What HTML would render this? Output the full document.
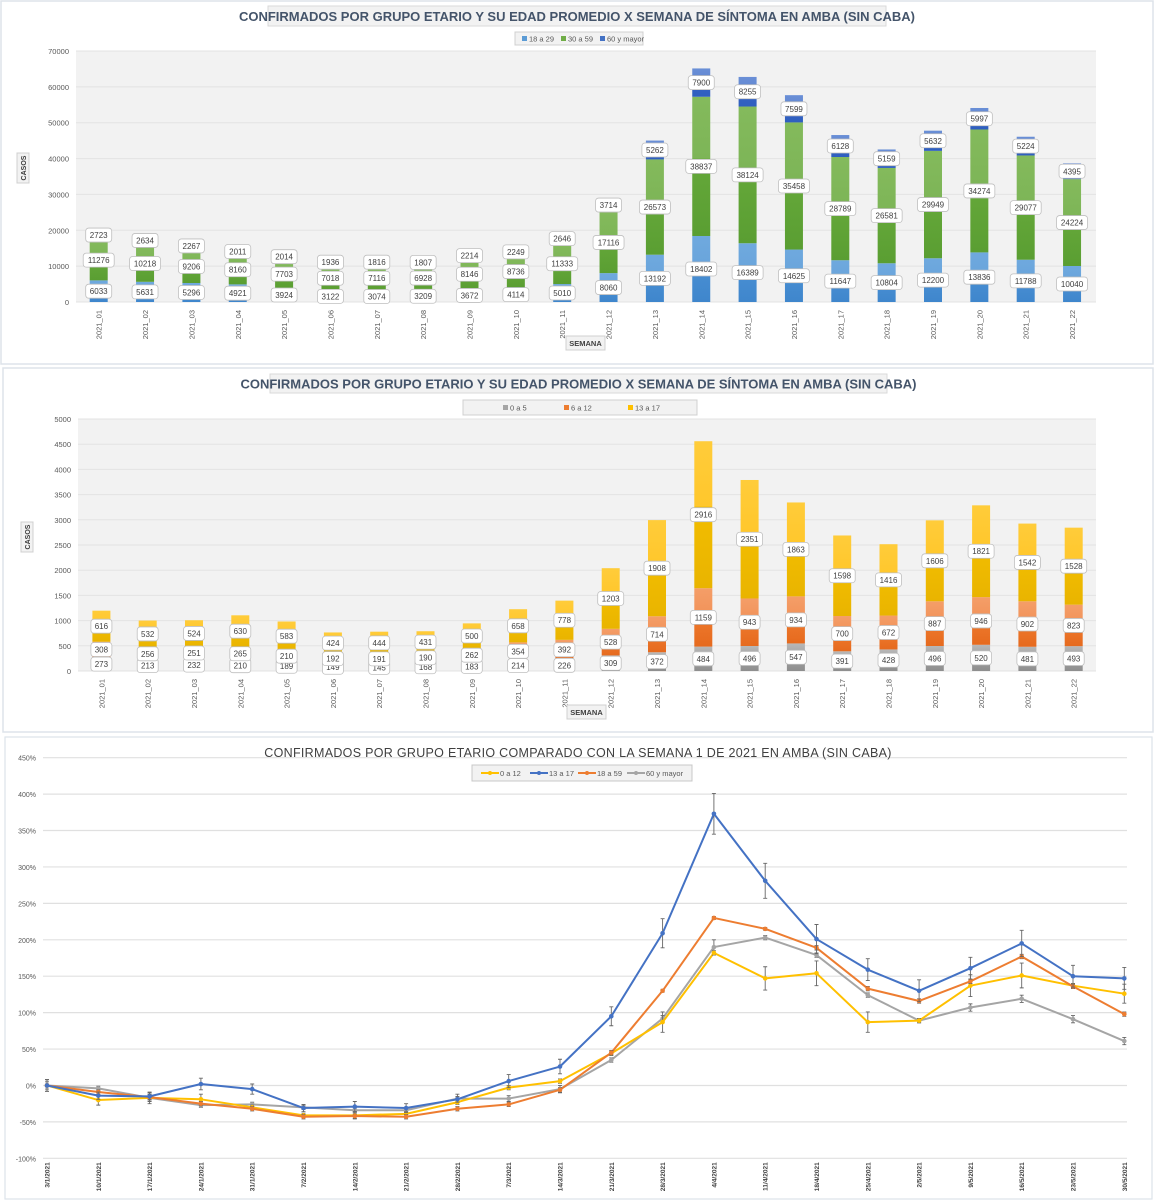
<!DOCTYPE html>
<html><head><meta charset="utf-8">
<style>
html,body{margin:0;padding:0;background:#fff;}
svg{display:block;font-family:"Liberation Sans",sans-serif;}
</style></head>
<body>
<svg id="root" width="1156" height="1200" viewBox="0 0 1156 1200" xmlns="http://www.w3.org/2000/svg">
<defs>
<linearGradient id="gBlue" x1="0" y1="1" x2="0" y2="0"><stop offset="0" stop-color="#3f86cc"/><stop offset="0.6" stop-color="#4a90d4"/><stop offset="0.61" stop-color="#6aa5dc"/><stop offset="1" stop-color="#6fa9de"/></linearGradient>
<linearGradient id="gGreen" x1="0" y1="1" x2="0" y2="0"><stop offset="0" stop-color="#5a9e32"/><stop offset="0.55" stop-color="#65a83a"/><stop offset="0.56" stop-color="#7db557"/><stop offset="1" stop-color="#84ba5c"/></linearGradient>
<linearGradient id="gDBlue" x1="0" y1="1" x2="0" y2="0"><stop offset="0" stop-color="#2f5fbf"/><stop offset="0.45" stop-color="#3563c4"/><stop offset="0.46" stop-color="#5f86d2"/><stop offset="1" stop-color="#6a8fd6"/></linearGradient>
<linearGradient id="gGray" x1="0" y1="1" x2="0" y2="0"><stop offset="0" stop-color="#8e8e8e"/><stop offset="0.5" stop-color="#a0a0a0"/><stop offset="1" stop-color="#b8b8b8"/></linearGradient>
<linearGradient id="gOrange" x1="0" y1="1" x2="0" y2="0"><stop offset="0" stop-color="#e66a1e"/><stop offset="0.55" stop-color="#ee7a2e"/><stop offset="0.56" stop-color="#f2935a"/><stop offset="1" stop-color="#f49e68"/></linearGradient>
<linearGradient id="gYellow" x1="0" y1="1" x2="0" y2="0"><stop offset="0" stop-color="#e9b400"/><stop offset="0.55" stop-color="#f2bd00"/><stop offset="0.56" stop-color="#ffc72c"/><stop offset="1" stop-color="#ffcc3a"/></linearGradient>
</defs>
</svg>
<script>
// ---------- Chart 1 data ----------
const weeks = ["2021_01","2021_02","2021_03","2021_04","2021_05","2021_06","2021_07","2021_08","2021_09","2021_10","2021_11","2021_12","2021_13","2021_14","2021_15","2021_16","2021_17","2021_18","2021_19","2021_20","2021_21","2021_22"];
const c1Ticks = [0,10000,20000,30000,40000,50000,60000,70000];
const c1_18a29 = [6033,5631,5296,4921,3924,3122,3074,3209,3672,4114,5010,8060,13192,18402,16389,14625,11647,10804,12200,13836,11788,10040];
const c1_30a59 = [11276,10218,9206,8160,7703,7018,7116,6928,8146,8736,11333,17116,26573,38837,38124,35458,28789,26581,29949,34274,29077,24224];
const c1_60mas = [2723,2634,2267,2011,2014,1936,1816,1807,2214,2249,2646,3714,5262,7900,8255,7599,6128,5159,5632,5997,5224,4395];
// ---------- Chart 2 data ----------
const c2Ticks = [0,500,1000,1500,2000,2500,3000,3500,4000,4500,5000];
const c2_0a5 = [273,213,232,210,189,149,145,168,183,214,226,309,372,484,496,547,391,428,496,520,481,493];
const c2_6a12 = [308,256,251,265,210,192,191,190,262,354,392,528,714,1159,943,934,700,672,887,946,902,823];
const c2_13a17 = [616,532,524,630,583,424,444,431,500,658,778,1203,1908,2916,2351,1863,1598,1416,1606,1821,1542,1528];
// ---------- Chart 3 data ----------
const dates = ["3/1/2021","10/1/2021","17/1/2021","24/1/2021","31/1/2021","7/2/2021","14/2/2021","21/2/2021","28/2/2021","7/3/2021","14/3/2021","21/3/2021","28/3/2021","4/4/2021","11/4/2021","18/4/2021","25/4/2021","2/5/2021","9/5/2021","16/5/2021","23/5/2021","30/5/2021"];
const c3Ticks = [-100,-50,0,50,100,150,200,250,300,350,400,450];
const l_0a12 = [0,-20,-17,-19,-30,-41,-41,-39,-23,-3,6,44,87,182,147,154,87,89,137,151,137,126];
const l_13a17 = [0,-14,-15,2,-5,-31,-29,-31,-19,6,26,95,209,373,281,201,159,130,161,195,150,147];
const l_18a59 = [0,-9,-16,-25,-32,-43,-42,-43,-32,-26,-6,45,130,230,215,189,133,116,143,177,136,98];
const l_60mas = [0,-4,-17,-27,-26,-30,-34,-34,-18,-18,-5,35,92,190,203,179,124,89,107,119,91,61];
const e_0a12 = [5,7,5,7,3,3,5,3,3,3,3,3,14,3,16,17,14,3,15,17,3,13];
const e_13a17 = [8,5,5,8,7,5,7,6,4,9,10,13,20,28,24,20,15,15,15,18,15,15];
const e_18a59 = [2,3,3,3,3,3,3,3,3,3,3,3,2,2,2,3,3,3,3,3,3,3];
const e_60mas = [8,3,8,3,3,3,3,3,6,4,5,3,4,10,3,3,3,3,5,5,5,5];

const NS="http://www.w3.org/2000/svg";
const root=document.getElementById('root');
function mk(tag,attrs,parent,text){const e=document.createElementNS(NS,tag);for(const k in attrs)e.setAttribute(k,attrs[k]);if(text!==undefined)e.textContent=text;(parent||root).appendChild(e);return e;}

// ===== generic stacked bar chart =====
function barChart(o){
  const g=mk('g',{});
  
  
  const box=mk('rect',{x:o.box[0],y:o.box[1],width:o.box[2],height:o.box[3],fill:'#fff',stroke:'#dde3ea','stroke-width':1.5},g);
  
  
  // title
  const tb=mk('rect',{x:o.title[0],y:o.title[1],width:o.title[2],height:o.title[3],fill:'#f2f2f2',stroke:'#d9d9d9'},g);
  
  
  const tt=mk('text',{x:o.title[0]+o.title[2]/2,y:o.title[1]+o.title[3]/2+5,'text-anchor':'middle','font-size':13,'font-weight':'bold',fill:'#44546a'},g,o.titleText);
  
  
  const x0=o.plot[0],x1=o.plot[1],yT=o.plot[2],yB=o.plot[3];
  const pa=mk('rect',{x:x0,y:yT,width:x1-x0,height:yB-yT,fill:'#f2f2f2'},g);
  
  
  const max=o.ticks[o.ticks.length-1];
  const yS=v=>yB-(v/max)*(yB-yT);
  const xS=i=>o.firstX+i*o.step;
  o.ticks.forEach(t=>{
    const ln=mk('line',{x1:x0,x2:x1,y1:yS(t),y2:yS(t),stroke:'#e3e3e3','stroke-width':1},g);
    
    
    const tl=mk('text',{x:x0-7,y:yS(t)+3,'text-anchor':'end','font-size':7.5,fill:'#595959'},g,String(t));
    
    
  });
  // legend
  const lb=mk('rect',{x:o.legend[0],y:o.legend[1],width:o.legend[2],height:o.legend[3],fill:'#f2f2f2',stroke:'#d0d0d0'},g);
  
  
  o.series.forEach((s,k)=>{
    const lx=o.legendX[k];
    const sq=mk('rect',{x:lx,y:o.legend[1]+o.legend[3]/2-2.5,width:5,height:5,fill:s.solid},g);
    
    
    const lt=mk('text',{x:lx+7,y:o.legend[1]+o.legend[3]/2+3,'font-size':7.5,fill:'#595959'},g,s.label);
    
    
  });
  // bars
  const labels=[];
  weeks.forEach((w,i)=>{
    let acc=0;
    o.series.forEach(s=>{
      const v=s.data[i];
      const yt=yS(acc+v), yb=yS(acc);
      const r=mk('rect',{x:xS(i)-o.bw/2,y:yt,width:o.bw,height:Math.max(0,yb-yt),fill:s.fill},g);
      
      
      labels.push([xS(i),(yt+yb)/2,v]);
      acc+=v;
    });
    const xl=mk('text',{transform:`translate(${xS(i)+3},${yB+8}) rotate(-90)`,'text-anchor':'end','font-size':7.5,fill:'#595959'},g,w);
    
    
  });
  labels.forEach(L=>{
    const s=String(L[2]);const w=s.length*5+6;
    const br=mk('rect',{x:L[0]-w/2,y:L[1]-7,width:w,height:14,rx:3,fill:'#fff',stroke:'#bfbfbf','stroke-width':0.8},g);
    
    
    const bt=mk('text',{x:L[0],y:L[1]+3,'text-anchor':'middle','font-size':8,fill:'#404040'},g,s);
    
    
  });
  // axis titles
  const yb2=mk('rect',{x:o.yTitle[0],y:o.yTitle[1],width:12,height:30,fill:'#f2f2f2',stroke:'#d0d0d0'},g);
  
  
  const yt2=mk('text',{transform:`translate(${o.yTitle[0]+9},${o.yTitle[1]+15}) rotate(-90)`,'text-anchor':'middle','font-size':7,'font-weight':'bold',fill:'#404040'},g,'CASOS');
  
  
  const xb=mk('rect',{x:o.xTitle[0],y:o.xTitle[1],width:39,height:14,fill:'#f2f2f2',stroke:'#d0d0d0'},g);
  
  
  const xt=mk('text',{x:o.xTitle[0]+19.5,y:o.xTitle[1]+10,'text-anchor':'middle','font-size':7.5,'font-weight':'bold',fill:'#404040'},g,'SEMANA');
  
  
}
const T="CONFIRMADOS POR GRUPO ETARIO Y SU EDAD PROMEDIO X SEMANA DE SÍNTOMA EN AMBA (SIN CABA)";
barChart({name:'chart-adultos',box:[1,1,1152,363],title:[268,6,618,20],titleText:T,
  plot:[76,1096,51,302],ticks:c1Ticks,firstX:98.7,step:46.35,bw:18,
  legend:[515,32,128,13],legendX:[522,561,600],
  series:[{label:'18 a 29',data:c1_18a29,fill:'url(#gBlue)',solid:'#5b9bd5'},
          {label:'30 a 59',data:c1_30a59,fill:'url(#gGreen)',solid:'#70ad47'},
          {label:'60 y mayor',data:c1_60mas,fill:'url(#gDBlue)',solid:'#4472c4'}],
  yTitle:[17,153],xTitle:[566,336]});
barChart({name:'chart-menores',box:[3,368,1150,364],title:[270,374,617,19],titleText:T,
  plot:[78,1096,419,671],ticks:c2Ticks,firstX:101.4,step:46.3,bw:18,
  legend:[463,400,234,15],legendX:[503,564,628],
  series:[{label:'0 a 5',data:c2_0a5,fill:'url(#gGray)',solid:'#a5a5a5'},
          {label:'6 a 12',data:c2_6a12,fill:'url(#gOrange)',solid:'#ed7d31'},
          {label:'13 a 17',data:c2_13a17,fill:'url(#gYellow)',solid:'#ffc000'}],
  yTitle:[21,522],xTitle:[567,705]});

// ===== line chart =====
(function(){
  const g=mk('g',{});
  
  
  const fr=mk('rect',{x:5,y:737,width:1147,height:462,fill:'#fff',stroke:'#dde3ea','stroke-width':1.2},g);
  
  
  const x0=43,x1=1127,yT=757.7,yB=1158.3;
  const yS=v=>yB-(v+100)/550*(yB-yT);
  const xS=i=>47+i*51.3;
  c3Ticks.forEach(t=>{
    const ln=mk('line',{x1:x0,x2:x1,y1:yS(t),y2:yS(t),stroke:'#e0e0e0','stroke-width':1.2},g);
    
    
    const tl=mk('text',{x:36,y:yS(t)+3,'text-anchor':'end','font-size':7,fill:'#595959'},g,t+'%');
    
    
  });
  const ti=mk('text',{x:578,y:757,'text-anchor':'middle','font-size':12.5,fill:'#404040','letter-spacing':'0.3'},g,'CONFIRMADOS POR GRUPO ETARIO COMPARADO CON LA SEMANA 1 DE 2021 EN AMBA (SIN CABA)');
  
  
  dates.forEach((d,i)=>{
    const xl=mk('text',{transform:`translate(${xS(i)+2.5},${yB+4}) rotate(-90)`,'text-anchor':'end','font-size':6.5,'font-weight':'bold',fill:'#404040'},g,d);
    
    
  });
  const series=[
    {label:'0 a 12',data:l_0a12,err:e_0a12,c:'#ffc000'},
    {label:'13 a 17',data:l_13a17,err:e_13a17,c:'#4472c4'},
    {label:'18 a 59',data:l_18a59,err:e_18a59,c:'#ed7d31'},
    {label:'60 y mayor',data:l_60mas,err:e_60mas,c:'#a5a5a5'}];
  const lb=mk('rect',{x:472,y:765,width:220,height:16,fill:'#f2f2f2',stroke:'#c8c8c8'},g);
  
  
  const lx=[481,530,578,627];
  series.forEach((s,k)=>{
    const l=mk('line',{x1:lx[k],x2:lx[k]+18,y1:773,y2:773,stroke:s.c,'stroke-width':2},g);
    
    
    const c=mk('circle',{cx:lx[k]+9,cy:773,r:2,fill:s.c},g);
    
    
    const t=mk('text',{x:lx[k]+19,y:776,'font-size':7.5,fill:'#595959'},g,s.label);
    
    
  });
  // draw order: 60, 0a12, 18a59, 13a17 (blue on top)
  [3,0,2,1].forEach(k=>{
    const s=series[k];
    const pts=s.data.map((v,i)=>xS(i)+','+yS(v)).join(' ');
    const pl=mk('polyline',{points:pts,fill:'none',stroke:s.c,'stroke-width':2,'stroke-linejoin':'round'},g);
    
    
    s.data.forEach((v,i)=>{
      const e=s.err[i];
      const ea=mk('path',{d:`M${xS(i)},${yS(v+e)}V${yS(v-e)}M${xS(i)-2},${yS(v+e)}h4M${xS(i)-2},${yS(v-e)}h4`,stroke:'#666','stroke-width':0.9,fill:'none'},g);
      
      
      const c=mk('circle',{cx:xS(i),cy:yS(v),r:2.3,fill:s.c},g);
      
      
    });
  });
})();
</script>
</body></html>
